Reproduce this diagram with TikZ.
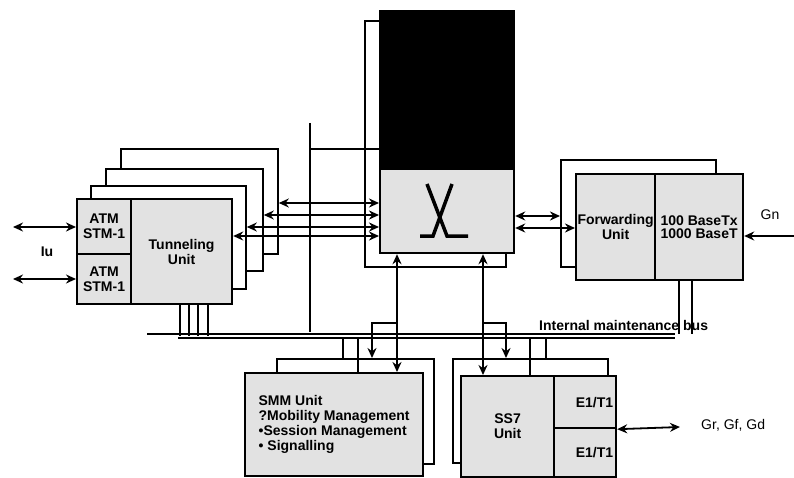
\documentclass[tikz,border=0pt]{standalone}
\usepackage{fontspec}
\setmainfont{Liberation Sans}
\usetikzlibrary{arrows.meta}
\definecolor{cpanel}{HTML}{E2E2E2}
\tikzset{
  every picture/.style={line width=1.8pt, x=1pt, y=-1pt},
  box/.style 2 args={draw, fill=cpanel, line width=2.2pt, minimum width=#1, minimum height=#2,
    anchor=north west, inner sep=0pt, align=center, font=\fontsize{14}{15}\selectfont\bfseries},
  frame/.style 2 args={draw, fill=white, line width=1.8pt, minimum width=#1, minimum height=#2,
    anchor=north west, inner sep=0pt},
  arrow/.style={-{Stealth[length=10pt, width=9pt]}},
  both/.style={{Stealth[length=10pt, width=9pt]}-{Stealth[length=10pt, width=9pt]}},
  note/.style={font=\fontsize{14}{15}\selectfont},
}

\begin{document}
\begin{tikzpicture}
  \useasboundingbox (0,0) rectangle (794,478);
  % tunneling stack
  \node[frame={157pt}{105pt}] (tun3) at (120,148) {};
  \node[frame={157pt}{102pt}] (tun2) at (105,168) {};
  \node[frame={155pt}{103pt}] (tun1) at (90,185) {};
  \node[box={54pt}{55pt}] (atm1) at (76,198) {ATM\\STM-1};
  \node[box={54pt}{50pt}] (atm2) at (76,253) {ATM\\STM-1};
  \node[box={101pt}{105pt}] (tun) at (130,198) {Tunneling\\Unit};
  % switch
  \node[frame={141pt}{246pt}] (swf) at (364,20) {};
  \node[box={134pt}{158pt}, fill=black] (swtop) at (379,10) {};
  \node[box={134pt}{84pt}] (sw) at (379,168) {};
  \draw[line width=3.5pt] (427,184) -- (447,236) -- (468,236);
  \draw[line width=3.5pt] (452,184) -- (433,236) -- (420,236);
  % forwarding
  \node[frame={155pt}{107pt}] (fwf) at (560,159) {};
  \node[box={79pt}{106pt}] (fwd) at (575,173) {Forwarding\\Unit};
  \node[box={88pt}{106pt}] (eth) at (654,173) {100 BaseTx\\[-2pt]1000 BaseT};
  % signalling units
  \node[frame={157pt}{105pt}] (smmf) at (276,358) {};
  \node[box={178pt}{103pt}, align=left] (smm) at (244,372)
    {SMM Unit\\?Mobility Management\\•Session Management\\• Signalling};
  \node[frame={155pt}{104pt}] (ss7f) at (452,358) {};
  \node[box={93pt}{101pt}] (ss7) at (460,375) {SS7\\Unit};
  \node[box={62pt}{52pt}, text width=56pt, align=right] (e1a) at (553,375) {E1/T1};
  \node[box={62pt}{49pt}, text width=56pt, align=right] (e1b) at (553,427) {E1/T1};

  % Iu side
  \coordinate (iu1) at (13,227);
  \coordinate (iu2) at (13,279);
  \draw[both] (iu1) -- (iu1 -| atm1.west);
  \draw[both] (iu2) -- (iu2 -| atm2.west);
  \node[note, font=\fontsize{14}{15}\selectfont\bfseries] (iu) at (47,252) {Iu};
  % tunneling <-> switch
  \draw[both] (tun3.east |- 0,203) -- (sw.west |- 0,203);
  \draw[both] (tun2.east |- 0,215) -- (sw.west |- 0,215);
  \draw[both] (tun1.east |- 0,227) -- (sw.west |- 0,227);
  \draw[both] (tun.east |- 0,236) -- (sw.west |- 0,236);
  \coordinate (mt) at (310,123);
  \coordinate (mb) at (310,332);
  \coordinate (mj) at (310,149);
  \draw[line width=1.4pt] (mt) -- (mb);
  \draw[line width=1.4pt] (mj) -- (mj -| swtop.west);
  % switch <-> forwarding
  \draw[both] (sw.east |- 0,216) -- (fwf.west |- 0,216);
  \draw[both] (sw.east |- 0,228) -- (fwd.west |- 0,228);
  \coordinate (gn) at (794,236);
  \draw[arrow] (gn) -- (gn -| eth.east);
  \node[note] (gnl) at (770,215) {Gn};
  % maintenance bus
  \coordinate (busl) at (147,334);
  \coordinate (busr) at (675,334);
  \coordinate (busl2) at (178,338);
  \coordinate (busr2) at (675,338);
  \draw[line width=1.3pt] (busl) -- (busr);
  \draw[line width=1.3pt] (busl2) -- (busr2);
  \node[note, font=\fontsize{14}{15}\selectfont\bfseries, anchor=base west] (buslbl) at (535,330) {Internal maintenance bus};
  \foreach \x in {180,189,198,208}
    \draw[line width=1.6pt] (tun.south -| \x,0) -- (\x,336);
  \foreach \x in {679,692}
    \draw[line width=1.6pt] (eth.south -| \x,0) -- (\x,334);
  % switch <-> signalling
  \draw[both] (sw.south -| 397,0) -- (smm.north -| 397,0);
  \draw[arrow] (397,323) -- (372,323) -- (smmf.north -| 372,0);
  \draw[both] (sw.south -| 483,0) -- (ss7.north -| 483,0);
  \draw[arrow] (483,323) -- (506,323) -- (ss7f.north -| 506,0);
  \draw[line width=1.6pt] (343,338) -- (smmf.north -| 343,0);
  \draw[line width=1.6pt] (358,338) -- (smm.north -| 358,0);
  \draw[line width=1.6pt] (530,338) -- (ss7.north -| 530,0);
  \draw[line width=1.6pt] (546,338) -- (ss7f.north -| 546,0);
  % Gr, Gf, Gd
  \coordinate (gr) at (680,427);
  \draw[both] (e1a.south east) -- (gr);
  \node[note, anchor=west] (grl) at (697,425) {Gr, Gf, Gd};
\end{tikzpicture}
\end{document}
